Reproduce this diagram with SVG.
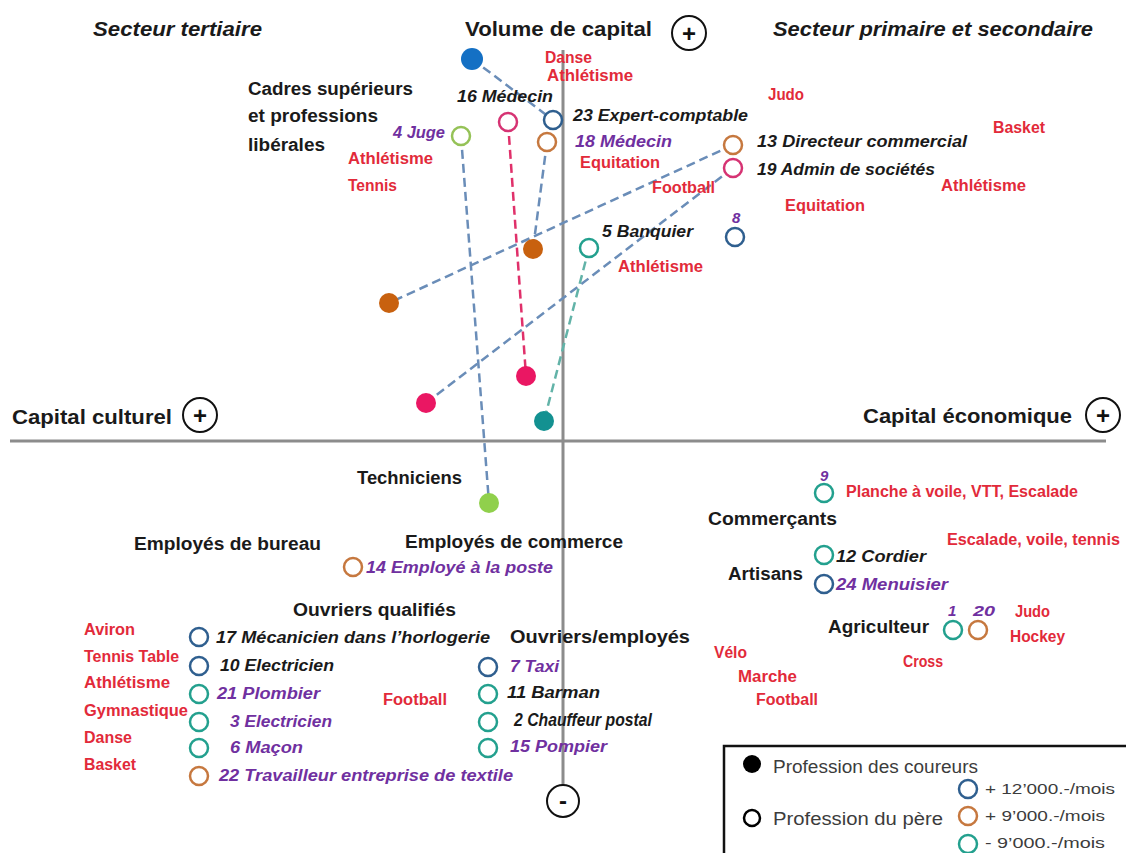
<svg xmlns="http://www.w3.org/2000/svg" width="1126" height="853" viewBox="0 0 1126 853">
<style>
text{font-family:"Liberation Sans",Arial,sans-serif}
.hd{font-size:21px;font-weight:bold;fill:#1a1a1a}
.it{font-style:italic}
.cat{font-size:18px;font-weight:bold;fill:#1a1a1a}
.job{font-size:16px;font-weight:bold;font-style:italic}
.num{font-size:15px;font-weight:bold;font-style:italic;fill:#7030a0}
.k{fill:#1a1a1a}
.p{fill:#7030a0}
.sp{font-size:16px;font-weight:bold;fill:#e22a3a}
.lg{font-size:18px;fill:#3c3c3c}
.lg2{font-size:15px;fill:#3c3c3c}
.sg{font-size:24px;font-weight:bold;fill:#111;text-anchor:middle}
.axis{stroke:#8c8c8c;stroke-width:3;fill:none}
.ring{fill:#fff;stroke:#111;stroke-width:2}
.o{fill:#fff;stroke-width:2.5}
.blue{stroke:#2f5f8f}
.orng{stroke:#c6783f}
.teal{stroke:#23a08e}
.lime{stroke:#95c257}
.pink{stroke:#d63373}
.dash{fill:none;stroke-width:2.5;stroke-dasharray:9 5}
.gb{stroke:#6a8db8}
</style>

<!-- axes of the social space -->
<g id="axes">
  <line class="axis" x1="563" y1="50" x2="563" y2="785"/>
  <line class="axis" x1="10" y1="441" x2="1106" y2="441"/>
  <circle class="ring" cx="689" cy="33" r="17"/>
  <text class="sg" x="689" y="42">+</text>
  <circle class="ring" cx="200" cy="415" r="17"/>
  <text class="sg" x="200" y="424">+</text>
  <circle class="ring" cx="1103" cy="415" r="17"/>
  <text class="sg" x="1103" y="424">+</text>
  <circle class="ring" cx="563" cy="801" r="16"/>
  <text class="sg" x="563" y="809">-</text>
  <text class="hd" x="465" y="36" textLength="187" lengthAdjust="spacingAndGlyphs">Volume de capital</text>
  <text class="hd" x="12" y="424" textLength="160" lengthAdjust="spacingAndGlyphs">Capital culturel</text>
  <text class="hd" x="863" y="423" textLength="209" lengthAdjust="spacingAndGlyphs">Capital économique</text>
  <text class="hd it" x="93" y="36" textLength="169" lengthAdjust="spacingAndGlyphs">Secteur tertiaire</text>
  <text class="hd it" x="773" y="36" textLength="320" lengthAdjust="spacingAndGlyphs">Secteur primaire et secondaire</text>
</g>

<!-- dashed links from the father's profession to the runner's profession -->
<g id="connectors">
  <line class="dash gb" x1="472" y1="59" x2="553" y2="120"/>
  <line class="dash gb" x1="461" y1="136" x2="489" y2="503"/>
  <line class="dash" stroke="#e0306a" stroke-width="3" x1="508" y1="122" x2="526" y2="376"/>
  <line class="dash gb" x1="547" y1="142" x2="533" y2="249"/>
  <line class="dash gb" x1="733" y1="145" x2="389" y2="303"/>
  <line class="dash gb" x1="733" y1="168" x2="426" y2="403"/>
  <line class="dash" stroke="#62b3a8" x1="589" y1="248" x2="544" y2="421"/>
</g>

<!-- runners' professions (filled) -->
<g id="runners">
  <circle cx="472" cy="59" r="11" fill="#1470c4"/>
  <circle cx="533" cy="249" r="10" fill="#c8610f"/>
  <circle cx="389" cy="303" r="10" fill="#c8610f"/>
  <circle cx="526" cy="376" r="10" fill="#ea1763"/>
  <circle cx="426" cy="403" r="10" fill="#ea1763"/>
  <circle cx="544" cy="421" r="10" fill="#139191"/>
  <circle cx="489" cy="503" r="10" fill="#90d04c"/>
</g>

<!-- social categories -->
<g id="categories">
  <text class="cat" x="248" y="95" textLength="165" lengthAdjust="spacingAndGlyphs">Cadres supérieurs</text>
  <text class="cat" x="248" y="122" textLength="130" lengthAdjust="spacingAndGlyphs">et professions</text>
  <text class="cat" x="248" y="151" textLength="77" lengthAdjust="spacingAndGlyphs">libérales</text>
  <text class="cat" x="357" y="484" textLength="105" lengthAdjust="spacingAndGlyphs">Techniciens</text>
  <text class="cat" x="134" y="550" textLength="187" lengthAdjust="spacingAndGlyphs">Employés de bureau</text>
  <text class="cat" x="405" y="548" textLength="218" lengthAdjust="spacingAndGlyphs">Employés de commerce</text>
  <text class="cat" x="293" y="616" textLength="163" lengthAdjust="spacingAndGlyphs">Ouvriers qualifiés</text>
  <text class="cat" x="510" y="643" textLength="180" lengthAdjust="spacingAndGlyphs">Ouvriers/employés</text>
  <text class="cat" x="708" y="525" textLength="129" lengthAdjust="spacingAndGlyphs">Commerçants</text>
  <text class="cat" x="728" y="580" textLength="75" lengthAdjust="spacingAndGlyphs">Artisans</text>
  <text class="cat" x="828" y="633" textLength="101" lengthAdjust="spacingAndGlyphs">Agriculteur</text>
</g>

<!-- fathers' professions (open rings) -->
<g id="n4"><circle class="o lime" cx="461" cy="136" r="9"/><text class="job p" x="393" y="138" textLength="52" lengthAdjust="spacingAndGlyphs">4 Juge</text></g>
<g id="n16"><circle class="o pink" cx="508" cy="122" r="9"/><text class="job k" x="457" y="102" textLength="96" lengthAdjust="spacingAndGlyphs">16 Médecin</text></g>
<g id="n23"><circle class="o blue" cx="553" cy="120" r="9"/><text class="job k" x="573" y="121" textLength="175" lengthAdjust="spacingAndGlyphs">23 Expert-comptable</text></g>
<g id="n18"><circle class="o orng" cx="547" cy="142" r="9"/><text class="job p" x="575" y="147" textLength="97" lengthAdjust="spacingAndGlyphs">18 Médecin</text></g>
<g id="n13"><circle class="o orng" cx="733" cy="145" r="9"/><text class="job k" x="757" y="147" textLength="210" lengthAdjust="spacingAndGlyphs">13 Directeur commercial</text></g>
<g id="n19"><circle class="o pink" cx="733" cy="168" r="9"/><text class="job k" x="757" y="175" textLength="178" lengthAdjust="spacingAndGlyphs">19 Admin de sociétés</text></g>
<g id="n8"><circle class="o blue" cx="735" cy="237" r="9"/><text class="num" x="732" y="223">8</text></g>
<g id="n5"><circle class="o teal" cx="589" cy="248" r="9"/><text class="job k" x="602" y="237" textLength="91" lengthAdjust="spacingAndGlyphs">5 Banquier</text></g>
<g id="n14"><circle class="o orng" cx="353" cy="567" r="9"/><text class="job p" x="366" y="573" textLength="187" lengthAdjust="spacingAndGlyphs">14 Employé à la poste</text></g>
<g id="n9"><circle class="o teal" cx="824" cy="493" r="9"/><text class="num" x="820" y="481">9</text></g>
<g id="n12"><circle class="o teal" cx="824" cy="555" r="9"/><text class="job k" x="836" y="562" textLength="90" lengthAdjust="spacingAndGlyphs">12 Cordier</text></g>
<g id="n24"><circle class="o blue" cx="824" cy="584" r="9"/><text class="job p" x="836" y="590" textLength="112" lengthAdjust="spacingAndGlyphs">24 Menuisier</text></g>
<g id="n1"><circle class="o teal" cx="953" cy="630" r="9"/><text class="num" x="948" y="616">1</text></g>
<g id="n20"><circle class="o orng" cx="978" cy="630" r="9"/><text class="num" x="973" y="616" textLength="22" lengthAdjust="spacingAndGlyphs">20</text></g>
<g id="n17"><circle class="o blue" cx="199" cy="637" r="9"/><text class="job k" x="216" y="643" textLength="274" lengthAdjust="spacingAndGlyphs">17 Mécanicien dans l’horlogerie</text></g>
<g id="n10"><circle class="o blue" cx="199" cy="666" r="9"/><text class="job k" x="220" y="671" textLength="114" lengthAdjust="spacingAndGlyphs">10 Electricien</text></g>
<g id="n21"><circle class="o teal" cx="199" cy="694" r="9"/><text class="job p" x="217" y="699" textLength="103" lengthAdjust="spacingAndGlyphs">21 Plombier</text></g>
<g id="n3"><circle class="o teal" cx="199" cy="722" r="9"/><text class="job p" x="230" y="727" textLength="102" lengthAdjust="spacingAndGlyphs">3 Electricien</text></g>
<g id="n6"><circle class="o teal" cx="199" cy="748" r="9"/><text class="job p" x="230" y="753" textLength="73" lengthAdjust="spacingAndGlyphs">6 Maçon</text></g>
<g id="n22"><circle class="o orng" cx="199" cy="776" r="9"/><text class="job p" x="219" y="781" textLength="294" lengthAdjust="spacingAndGlyphs">22 Travailleur entreprise de textile</text></g>
<g id="n7"><circle class="o blue" cx="488" cy="667" r="9"/><text class="job p" x="510" y="672" textLength="49" lengthAdjust="spacingAndGlyphs">7 Taxi</text></g>
<g id="n11"><circle class="o teal" cx="488" cy="694" r="9"/><text class="job k" x="507" y="698" textLength="93" lengthAdjust="spacingAndGlyphs">11 Barman</text></g>
<g id="n2"><circle class="o teal" cx="488" cy="722" r="9"/><text class="job k" x="514" y="726" style="font-size:17.5px" textLength="138" lengthAdjust="spacingAndGlyphs">2 Chauffeur postal</text></g>
<g id="n15"><circle class="o teal" cx="488" cy="748" r="9"/><text class="job p" x="510" y="752" textLength="97" lengthAdjust="spacingAndGlyphs">15 Pompier</text></g>

<!-- sports practised -->
<g id="sports">
  <text class="sp" x="545" y="63" textLength="47" lengthAdjust="spacingAndGlyphs">Danse</text>
  <text class="sp" x="547" y="81" textLength="86" lengthAdjust="spacingAndGlyphs">Athlétisme</text>
  <text class="sp" x="348" y="164" textLength="85" lengthAdjust="spacingAndGlyphs">Athlétisme</text>
  <text class="sp" x="348" y="191" textLength="49" lengthAdjust="spacingAndGlyphs">Tennis</text>
  <text class="sp" x="580" y="168" textLength="80" lengthAdjust="spacingAndGlyphs">Equitation</text>
  <text class="sp" x="652" y="193" textLength="63" lengthAdjust="spacingAndGlyphs">Football</text>
  <text class="sp" x="768" y="100" textLength="36" lengthAdjust="spacingAndGlyphs">Judo</text>
  <text class="sp" x="993" y="133" textLength="52" lengthAdjust="spacingAndGlyphs">Basket</text>
  <text class="sp" x="941" y="191" textLength="85" lengthAdjust="spacingAndGlyphs">Athlétisme</text>
  <text class="sp" x="785" y="211" textLength="80" lengthAdjust="spacingAndGlyphs">Equitation</text>
  <text class="sp" x="618" y="272" textLength="85" lengthAdjust="spacingAndGlyphs">Athlétisme</text>
  <text class="sp" x="846" y="497" textLength="232" lengthAdjust="spacingAndGlyphs">Planche à voile, VTT, Escalade</text>
  <text class="sp" x="947" y="545" textLength="173" lengthAdjust="spacingAndGlyphs">Escalade, voile, tennis</text>
  <text class="sp" x="1015" y="617" textLength="35" lengthAdjust="spacingAndGlyphs">Judo</text>
  <text class="sp" x="1010" y="642" textLength="55" lengthAdjust="spacingAndGlyphs">Hockey</text>
  <text class="sp" x="903" y="667" textLength="40" lengthAdjust="spacingAndGlyphs">Cross</text>
  <text class="sp" x="714" y="658" textLength="33" lengthAdjust="spacingAndGlyphs">Vélo</text>
  <text class="sp" x="738" y="682" textLength="59" lengthAdjust="spacingAndGlyphs">Marche</text>
  <text class="sp" x="756" y="705" textLength="62" lengthAdjust="spacingAndGlyphs">Football</text>
  <text class="sp" x="84" y="635" textLength="51" lengthAdjust="spacingAndGlyphs">Aviron</text>
  <text class="sp" x="84" y="662" textLength="95" lengthAdjust="spacingAndGlyphs">Tennis Table</text>
  <text class="sp" x="84" y="688" textLength="86" lengthAdjust="spacingAndGlyphs">Athlétisme</text>
  <text class="sp" x="84" y="716" textLength="104" lengthAdjust="spacingAndGlyphs">Gymnastique</text>
  <text class="sp" x="84" y="743" textLength="48" lengthAdjust="spacingAndGlyphs">Danse</text>
  <text class="sp" x="84" y="770" textLength="52" lengthAdjust="spacingAndGlyphs">Basket</text>
  <text class="sp" x="383" y="705" textLength="64" lengthAdjust="spacingAndGlyphs">Football</text>
</g>

<!-- legend -->
<g id="legend">
  <rect x="724" y="746" width="420" height="120" fill="#fff" stroke="#111" stroke-width="2.5"/>
  <circle cx="752" cy="764" r="9" fill="#000"/>
  <text class="lg" x="773" y="773" textLength="205" lengthAdjust="spacingAndGlyphs">Profession des coureurs</text>
  <circle cx="752" cy="818" r="8" fill="#fff" stroke="#000" stroke-width="2.5"/>
  <text class="lg" x="773" y="825" textLength="170" lengthAdjust="spacingAndGlyphs">Profession du père</text>
  <circle class="o blue" cx="968" cy="789" r="9"/>
  <text class="lg2" x="985" y="794" textLength="130" lengthAdjust="spacingAndGlyphs">+ 12’000.-/mois</text>
  <circle class="o orng" cx="968" cy="816" r="9"/>
  <text class="lg2" x="985" y="821" textLength="120" lengthAdjust="spacingAndGlyphs">+ 9’000.-/mois</text>
  <circle class="o teal" cx="968" cy="844" r="9"/>
  <text class="lg2" x="985" y="848" textLength="120" lengthAdjust="spacingAndGlyphs">- 9’000.-/mois</text>
</g>
</svg>
